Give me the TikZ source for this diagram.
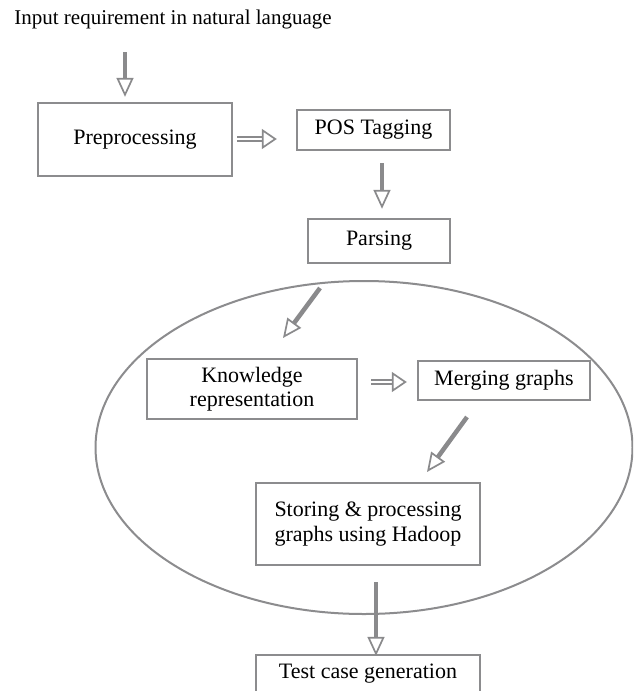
\documentclass[tikz,border=0pt]{standalone}
\usepackage{fontspec}
\setmainfont{Liberation Serif}
\usetikzlibrary{arrows.meta}
\definecolor{agray}{RGB}{138,138,140}
\definecolor{bgray}{RGB}{140,140,142}
\tikzset{
  box/.style={draw=bgray, line width=2.4pt, fill=white, align=center, inner sep=0pt,
    font=\fontsize{22}{24.5}\selectfont},
  blk/.style={draw=agray, line width=4.5pt,
    -{Triangle[open, length=19pt, width=17pt, line width=1.7pt]}},
  dblk/.style={draw=agray, line width=1.8pt, double=white, double distance=2.6pt,
    -{Triangle[open, length=15pt, width=20pt, line width=1.7pt]}},
}
\begin{document}
\begin{tikzpicture}[x=1pt,y=-1pt]
\clip (0,0) rectangle (633,691);
\fill[white] (0,0) rectangle (633,691);

% ellipse
\draw[draw=bgray, line width=2pt] (364,447.5) ellipse [x radius=268.5, y radius=166.5];

\node[font=\fontsize{21}{24}\selectfont] (title) at (173,19) {Input requirement in natural language};

\node[box, minimum width=194pt, minimum height=73pt] (pre) at (135,139.5) {Preprocessing};
\node[box, minimum width=153pt, minimum height=40pt] (pos) at (373.5,130) {POS Tagging};
\node[box, minimum width=142pt, minimum height=44pt] (pars) at (379,241) {Parsing};
\node[box, minimum width=210pt, minimum height=60pt] (know) at (252,389) {Knowledge\\representation};
\node[box, minimum width=172pt, minimum height=39pt] (merge) at (504,380.5) {Merging graphs};
\node[box, minimum width=224pt, minimum height=82pt] (store) at (368,524) {Storing \& processing\\graphs using Hadoop};
\node[box, minimum width=224pt, minimum height=38pt] (test) at (368,674) {Test case generation};

% arrows
\coordinate (a1s) at (125,52);
\draw[blk, shorten >=5pt] (a1s) -- (a1s |- pre.north);

\coordinate (a2s) at (237,139);
\draw[dblk, shorten >=19pt] (a2s) -- (a2s -| pos.west);

\coordinate (a3s) at (382,163);
\draw[blk, shorten >=9pt] (a3s) -- (a3s |- pars.north);

\coordinate (a4s) at (320,288);
\coordinate (a4e) at (283,338);
\draw[blk] (a4s) -- (a4e);

\coordinate (a5s) at (371,382);
\draw[dblk, shorten >=10pt] (a5s) -- (a5s -| merge.west);

\coordinate (a6s) at (467,417);
\coordinate (a6e) at (427,472);
\draw[blk] (a6s) -- (a6e);

\coordinate (a7s) at (376,582);
\draw[blk, shorten >=-2pt] (a7s) -- (a7s |- test.north);
\end{tikzpicture}
\end{document}
